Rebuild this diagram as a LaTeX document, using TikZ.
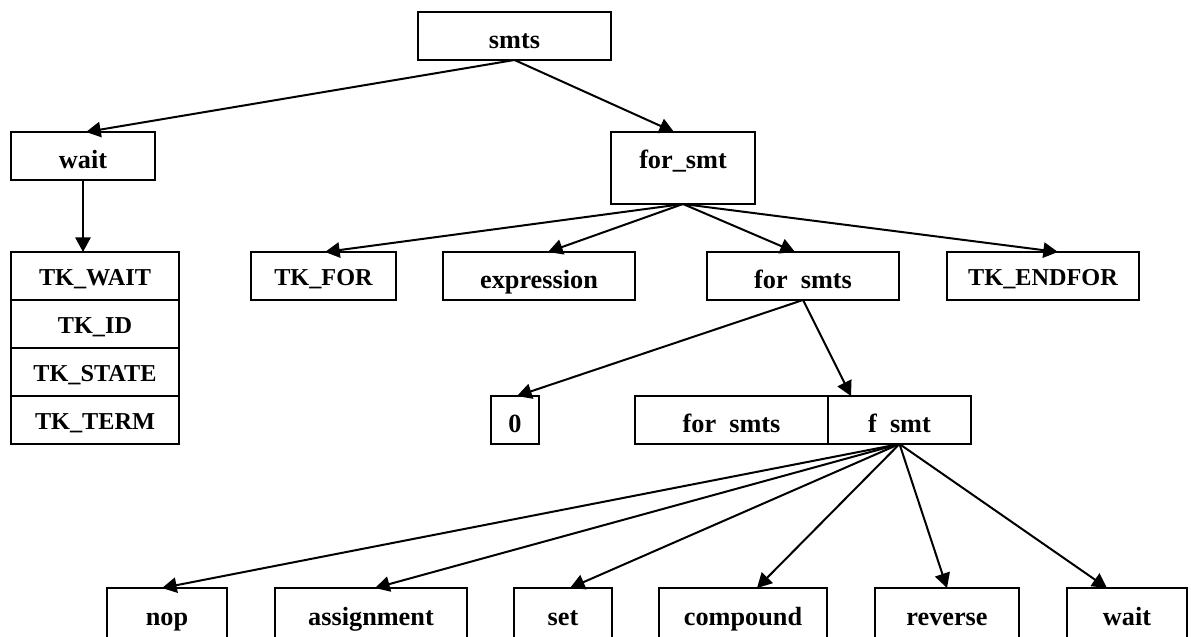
\documentclass[tikz,border=0pt]{standalone}
\usepackage{fontspec}
\setmainfont{Liberation Serif}
\usetikzlibrary{arrows.meta}
\newcommand\pu{0.75pt}
\newcommand\lcfont{\fontsize{19.7pt}{22pt}\selectfont\bfseries}
\newcommand\capfont{\fontsize{18.2pt}{20pt}\selectfont\bfseries}
\begin{document}
\begin{tikzpicture}[x=0.75pt,y=-0.75pt,
  box/.style={draw, line width=1.5pt, inner sep=0pt, outer sep=0pt,
    font=\lcfont, text height=20pt, text depth=2pt, minimum height=48*\pu},
  capbox/.style={box, font=\capfont, text height=15pt, text depth=1.5pt},
  tallbox/.style={box, text height=14pt, text depth=14pt, minimum height=72*\pu},
  lowbox/.style={box, minimum height=50*\pu},
  edge/.style={line width=1.5pt, -{Triangle[length=11pt,width=11.5pt]}}]
\useasboundingbox (0,0) rectangle (1191,636);

% root and first level
\node[box, minimum width=193*\pu] (smts) at (514.5,36) {smts};
\node[box, minimum width=144*\pu] (wait) at (83,156) {wait};
\node[tallbox, minimum width=144*\pu] (forsmt) at (683,168) {for\_smt};

% token table under wait
\node[capbox, minimum width=168*\pu] (tkwait) at (95,276) {TK\_WAIT};
\node[capbox, minimum width=168*\pu] (tkid) at (95,324) {TK\_ID};
\node[capbox, minimum width=168*\pu] (tkstate) at (95,372) {TK\_STATE};
\node[capbox, minimum width=168*\pu] (tkterm) at (95,420) {TK\_TERM};

% children of for_smt
\node[capbox, minimum width=145*\pu] (tkfor) at (323.5,276) {TK\_FOR};
\node[box, minimum width=192*\pu] (expr) at (539,276) {expression};
\node[box, minimum width=192*\pu] (forsmts) at (803,276) {for\enspace smts};
\node[capbox, minimum width=192*\pu] (tkendfor) at (1043,276) {TK\_ENDFOR};

% children of for smts
\node[box, minimum width=48*\pu] (zero) at (515,420) {0};
\node[box, minimum width=193*\pu] (fsa) at (731.5,420) {for\enspace smts};
\node[box, minimum width=143*\pu] (fsb) at (899.5,420) {f\enspace smt};

% statement kinds
\node[lowbox, minimum width=120*\pu] (nop) at (167,613) {nop};
\node[lowbox, minimum width=192*\pu] (assign) at (371,613) {assignment};
\node[lowbox, minimum width=98*\pu] (set) at (563,613) {set};
\node[lowbox, minimum width=168*\pu] (compound) at (743,613) {compound};
\node[lowbox, minimum width=144*\pu] (reverse) at (947,613) {reverse};
\node[lowbox, minimum width=120*\pu] (waitb) at (1127,613) {wait};

% connectors
\draw[edge] (smts.south) -- ([xshift=3*\pu]wait.north);
\draw[edge] (smts.south) -- ([xshift=-9*\pu]forsmt.north);
\draw[edge] (wait.south) -- (tkwait.north -| wait.south);

\draw[edge] (forsmt.south) -- ([xshift=1.5*\pu]tkfor.north);
\draw[edge] (forsmt.south) -- ([xshift=9*\pu]expr.north);
\draw[edge] (forsmt.south) -- ([xshift=-8*\pu]forsmts.north);
\draw[edge] (forsmt.south) -- ([xshift=15*\pu]tkendfor.north);

\draw[edge] (forsmts.south) -- ([xshift=2*\pu]zero.north);
\draw[edge] (forsmts.south) -- ([xshift=-48.5*\pu]fsb.north);

\draw[edge] (fsb.south) -- ([xshift=-5*\pu]nop.north);
\draw[edge] (fsb.south) -- ([xshift=4*\pu]assign.north);
\draw[edge] (fsb.south) -- ([xshift=7*\pu]set.north);
\draw[edge] (fsb.south) -- ([xshift=14*\pu]compound.north);
\draw[edge] (fsb.south) -- (reverse.north);
\draw[edge] (fsb.south) -- ([xshift=-20*\pu]waitb.north);
\end{tikzpicture}
\end{document}
